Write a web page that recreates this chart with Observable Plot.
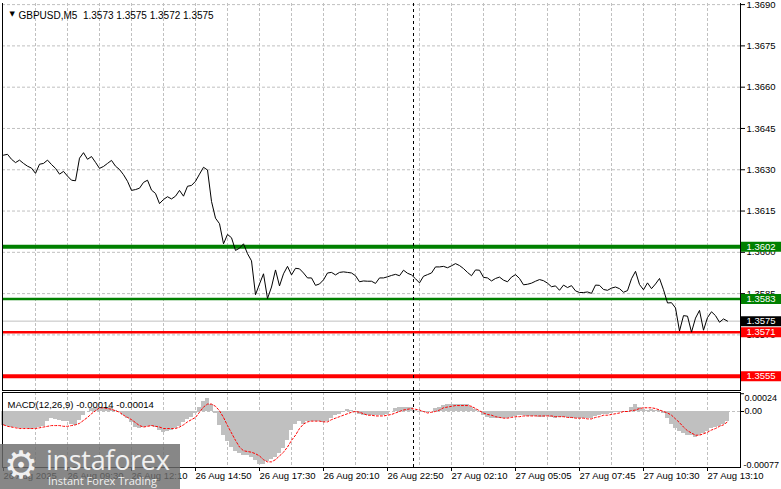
<!DOCTYPE html>
<html>
<head>
<meta charset="utf-8">
<script src="https://cdn.jsdelivr.net/npm/d3@7"></script>
<script src="https://cdn.jsdelivr.net/npm/@observablehq/plot@0.6"></script>
<style>
  body { margin: 0; background: #fff; }
  #wrap { position: relative; width: 781px; height: 489px; overflow: hidden; }
  #wrap svg { display: block; }
  #logo {
    position: absolute; left: 0; top: 444px; width: 180px; height: 45px;
    background: rgba(108, 108, 108, 0.82); color: #f0f0f0;
  }
  #logo .gear { position: absolute; left: 4px; top: -1px; font: bold 38px "DejaVu Sans"; }
  #logo .name { position: absolute; left: 46px; top: -3px; font: 27px "Open Sans"; letter-spacing: -0.3px; }
  #logo .sub { position: absolute; left: 48px; top: 29px; font: 11px "Open Sans"; }
</style>
</head>
<body>
<div id="wrap">
  <div id="main"></div>
  <div id="macd"></div>
  <div id="logo"><span class="gear">⚙</span><span class="name">instaforex</span><span class="sub">Instant Forex Trading</span></div>
</div>
<script>
// GBPUSD M5 closes, one value every 2 bars
const close = [
  1.36353, 1.36356, 1.36338, 1.36326, 1.36335, 1.36323, 1.36313, 1.36306, 1.36287, 1.36320,
  1.36323, 1.36335, 1.36319, 1.36305, 1.36284, 1.36294, 1.36277, 1.36262, 1.36260, 1.36342,
  1.36362, 1.36338, 1.36348, 1.36327, 1.36305, 1.36312, 1.36323, 1.36334, 1.36313, 1.36301,
  1.36282, 1.36258, 1.36225, 1.36228, 1.36233, 1.36254, 1.36262, 1.36226, 1.36214, 1.36177,
  1.36192, 1.36202, 1.36194, 1.36204, 1.36225, 1.36204, 1.36240, 1.36243, 1.36258, 1.36284,
  1.36309, 1.36299, 1.36185, 1.36124, 1.36104, 1.36031, 1.36065, 1.36053, 1.36007, 1.36015,
  1.36031, 1.35995, 1.35969, 1.35846, 1.35885, 1.35922, 1.35832, 1.35874, 1.35936, 1.35878,
  1.35922, 1.35949, 1.35918, 1.35942, 1.35940, 1.35925, 1.35907, 1.35907, 1.35880, 1.35885,
  1.35900, 1.35925, 1.35927, 1.35918, 1.35927, 1.35929, 1.35927, 1.35925, 1.35915, 1.35893,
  1.35896, 1.35895, 1.35895, 1.35887, 1.35907, 1.35907, 1.35911, 1.35916, 1.35920, 1.35915,
  1.35935, 1.35924, 1.35918, 1.35904, 1.35889, 1.35913, 1.35919, 1.35925, 1.35947, 1.35947,
  1.35949, 1.35944, 1.35951, 1.35959, 1.35952, 1.35941, 1.35927, 1.35915, 1.35936, 1.35935,
  1.35909, 1.35907, 1.35896, 1.35905, 1.35910, 1.35899, 1.35893, 1.35910, 1.35919, 1.35905,
  1.35882, 1.35884, 1.35888, 1.35895, 1.35901, 1.35897, 1.35888, 1.35875, 1.35878, 1.35862,
  1.35881, 1.35872, 1.35879, 1.35860, 1.35854, 1.35854, 1.35856, 1.35851, 1.35881, 1.35880,
  1.35865, 1.35862, 1.35870, 1.35874, 1.35868, 1.35855, 1.35861, 1.35904, 1.35931, 1.35883,
  1.35864, 1.35889, 1.35868, 1.35885, 1.35905, 1.35864, 1.35816, 1.35817, 1.35798, 1.35714,
  1.35770, 1.35768, 1.35710, 1.35761, 1.35789, 1.35717, 1.35763, 1.35784, 1.35770, 1.35746,
  1.35758, 1.35750
];

// MACD(12,26,9) main (histogram) and signal, same bars as close
const macdMain = [
  -0.00019, -0.00020, -0.00021, -0.00022, -0.00023, -0.00023, -0.00023, -0.00024, -0.00023, -0.00022,
  -0.00020, -0.00014, -0.00010, -0.00011, -0.00012, -0.00014, -0.00014, -0.00017, -0.00019, -0.00012,
  -0.00005, 0.00000, 0.00004, 0.00005, 0.00006, 0.00006, 0.00006, 0.00005, 0.00001, -0.00002,
  -0.00005, -0.00010, -0.00015, -0.00021, -0.00023, -0.00022, -0.00020, -0.00020, -0.00022, -0.00026,
  -0.00028, -0.00027, -0.00026, -0.00023, -0.00020, -0.00015, -0.00011, -0.00008, -0.00003, 0.00006,
  0.00013, 0.00018, 0.00010, -0.00003, -0.00019, -0.00032, -0.00041, -0.00048, -0.00054, -0.00057,
  -0.00059, -0.00060, -0.00062, -0.00066, -0.00072, -0.00071, -0.00068, -0.00065, -0.00062, -0.00057,
  -0.00050, -0.00039, -0.00026, -0.00017, -0.00014, -0.00017, -0.00014, -0.00014, -0.00014, -0.00014,
  -0.00015, -0.00014, -0.00009, -0.00006, -0.00004, -0.00002, 0.00003, 0.00001, -0.00001, -0.00004,
  -0.00005, -0.00005, -0.00005, -0.00005, -0.00005, -0.00005, -0.00004, 0.00000, 0.00004, 0.00005,
  0.00006, 0.00005, 0.00005, 0.00001, -0.00001, -0.00002, -0.00002, 0.00000, 0.00004, 0.00006,
  0.00008, 0.00009, 0.00010, 0.00010, 0.00010, 0.00010, 0.00009, 0.00006, 0.00003, -0.00002,
  -0.00005, -0.00008, -0.00010, -0.00010, -0.00010, -0.00009, -0.00009, -0.00008, -0.00007, -0.00006,
  -0.00006, -0.00007, -0.00007, -0.00007, -0.00008, -0.00008, -0.00007, -0.00008, -0.00009, -0.00008,
  -0.00008, -0.00008, -0.00009, -0.00009, -0.00009, -0.00010, -0.00010, -0.00009, -0.00007, -0.00005,
  -0.00004, -0.00004, -0.00003, -0.00002, -0.00002, -0.00001, 0.00000, 0.00006, 0.00010, 0.00006,
  0.00003, 0.00002, 0.00003, 0.00002, 0.00001, -0.00003, -0.00010, -0.00017, -0.00023, -0.00027,
  -0.00030, -0.00032, -0.00032, -0.00035, -0.00032, -0.00030, -0.00027, -0.00023, -0.00022, -0.00020,
  -0.00017, -0.00014
];
const macdSignal = [
  -0.00018, -0.00020, -0.00021, -0.00022, -0.00023, -0.00023, -0.00023, -0.00023, -0.00023, -0.00022,
  -0.00021, -0.00020, -0.00019, -0.00019, -0.00019, -0.00020, -0.00020, -0.00019, -0.00018, -0.00016,
  -0.00012, -0.00008, -0.00003, 0.00001, 0.00005, 0.00005, 0.00004, 0.00003, 0.00001, -0.00001,
  -0.00005, -0.00008, -0.00011, -0.00015, -0.00019, -0.00021, -0.00020, -0.00019, -0.00020, -0.00021,
  -0.00023, -0.00023, -0.00023, -0.00023, -0.00021, -0.00018, -0.00014, -0.00011, -0.00008, -0.00001,
  0.00006, 0.00010, 0.00010, 0.00007, 0.00001, -0.00008, -0.00019, -0.00029, -0.00039, -0.00048,
  -0.00053, -0.00054, -0.00055, -0.00057, -0.00060, -0.00065, -0.00068, -0.00068, -0.00065, -0.00060,
  -0.00055, -0.00048, -0.00039, -0.00032, -0.00023, -0.00017, -0.00014, -0.00013, -0.00013, -0.00013,
  -0.00014, -0.00014, -0.00011, -0.00009, -0.00007, -0.00005, -0.00003, -0.00001, 0.00000, -0.00001,
  -0.00003, -0.00005, -0.00005, -0.00006, -0.00006, -0.00006, -0.00005, -0.00004, -0.00002, 0.00000,
  0.00002, 0.00003, 0.00004, 0.00003, 0.00002, 0.00000, -0.00002, -0.00001, 0.00000, 0.00002,
  0.00005, 0.00006, 0.00007, 0.00008, 0.00008, 0.00008, 0.00008, 0.00007, 0.00004, 0.00001,
  -0.00002, -0.00004, -0.00005, -0.00007, -0.00008, -0.00009, -0.00009, -0.00008, -0.00007, -0.00007,
  -0.00006, -0.00006, -0.00006, -0.00006, -0.00006, -0.00006, -0.00006, -0.00006, -0.00007, -0.00007,
  -0.00007, -0.00008, -0.00008, -0.00009, -0.00009, -0.00009, -0.00010, -0.00010, -0.00008, -0.00007,
  -0.00005, -0.00005, -0.00004, -0.00003, -0.00002, 0.00000, 0.00000, 0.00001, 0.00002, 0.00004,
  0.00005, 0.00005, 0.00005, 0.00004, 0.00002, 0.00000, -0.00002, -0.00005, -0.00010, -0.00015,
  -0.00021, -0.00026, -0.00029, -0.00032, -0.00032, -0.00030, -0.00028, -0.00025, -0.00023, -0.00020,
  -0.00018, -0.00014
];

const priceTicks = [1.3570, 1.3585, 1.3600, 1.3615, 1.3630, 1.3645, 1.3660, 1.3675, 1.3690];
const macdTicks = [0.00024, 0.00, -0.00077];
const gridBars = [8, 16, 24, 32, 40, 48, 56, 64, 72, 80, 88, 96, 104, 112, 120, 128, 136, 144, 152, 160, 168, 176];
const timeTicks = [0, 16, 32, 48, 64, 80, 96, 112, 128, 144, 160, 176];
const timeLabels = ["26 Aug 2025", "26 Aug 09:30", "26 Aug 12:10", "26 Aug 14:50", "26 Aug 17:30", "26 Aug 20:10",
  "26 Aug 22:50", "27 Aug 02:10", "27 Aug 05:05", "27 Aug 07:45", "27 Aug 10:30", "27 Aug 13:10"];
const resistance = [1.3602, 1.3583];
const support = [1.3571, 1.3555];
const lastPrice = 1.3575;
const separatorBar = 102.5;
const title = "GBPUSD,M5\u00a0\u00a01.3573 1.3575 1.3572 1.3575";
const macdTitle = "MACD(12,26,9) -0.00014 -0.00014";

const font = { fontFamily: "Liberation Sans", fontSize: "9.5px", background: "#fff", overflow: "visible" };
const xDomain = [-0.25, 184.25];
const grey = "#c0c0c0";
const green = "#008000";
const red = "#ff0000";
const fmt = d => d.toFixed(4);
const idx = (d, i) => i;

// label box on the price scale: a thick rule placed past the right edge
const tag = (v, color) => [
  Plot.ruleY([v], { x1: 184.5, x2: 195, stroke: color, strokeWidth: 10 }),
  Plot.text([v], { y: d => d, text: fmt, frameAnchor: "right", dx: 6, textAnchor: "start", fill: "#fff" })
];

const main = Plot.plot({
  width: 781,
  height: 391,
  marginLeft: 2,
  marginRight: 41,
  marginTop: 3,
  marginBottom: 1,
  style: font,
  x: { domain: xDomain, axis: null },
  y: { domain: [1.35498, 1.36904], axis: null },
  marks: [
    Plot.gridY(priceTicks, { stroke: grey, strokeOpacity: 1, strokeDasharray: "3,2" }),
    Plot.gridX(gridBars, { stroke: grey, strokeOpacity: 1, strokeDasharray: "3,2" }),
    Plot.ruleY([lastPrice], { stroke: grey }),
    Plot.ruleY([resistance[0]], { stroke: green, strokeWidth: 4 }),
    Plot.ruleY([resistance[1]], { stroke: green, strokeWidth: 2.5 }),
    Plot.ruleY([support[0]], { stroke: red, strokeWidth: 2.5 }),
    Plot.ruleY([support[1]], { stroke: red, strokeWidth: 4 }),
    Plot.ruleX([separatorBar], { stroke: "#000", strokeDasharray: "3,3" }),
    Plot.line(close, { x: idx, y: d => d, stroke: "#000", strokeWidth: 1 }),
    Plot.frame({ anchor: "left", stroke: "#000" }),
    Plot.frame({ anchor: "right", stroke: "#000" }),
    Plot.frame({ anchor: "bottom", stroke: "#000" }),
    Plot.axisY(priceTicks, { anchor: "right", tickSize: 4, tickPadding: 2, tickFormat: fmt, label: null }),
    ...tag(resistance[0], green),
    ...tag(resistance[1], green),
    ...tag(lastPrice, "#000"),
    ...tag(support[0], red),
    ...tag(support[1], red),
    Plot.text(["\u25bc"], { text: d => d, frameAnchor: "top-left", dx: 7, dy: 8, fontFamily: "DejaVu Sans", fontSize: 7 }),
    Plot.text([title], { text: d => d, frameAnchor: "top-left", dx: 16, dy: 8, textAnchor: "start", fontSize: 10 })
  ]
});

const macd = Plot.plot({
  width: 781,
  height: 98,
  marginLeft: 2,
  marginRight: 41,
  marginTop: 1,
  marginBottom: 22,
  style: font,
  x: { domain: xDomain, axis: null },
  y: { domain: [-0.000756, 0.0002565], axis: null },
  marks: [
    Plot.gridX(gridBars, { stroke: grey, strokeOpacity: 1, strokeDasharray: "3,2" }),
    Plot.ruleY([0], { stroke: grey, strokeDasharray: "3,2" }),
    Plot.rect(macdMain, {
      x1: (d, i) => i - 0.5, x2: (d, i) => i + 0.5, y1: 0, y2: d => d,
      fill: grey, shapeRendering: "crispEdges"
    }),
    Plot.ruleX([separatorBar], { stroke: "#000", strokeDasharray: "3,3" }),
    Plot.line(macdSignal, { x: idx, y: d => d, stroke: red, strokeWidth: 1, strokeDasharray: "2,2" }),
    Plot.frame({ stroke: "#000" }),
    Plot.axisX(timeTicks, {
      anchor: "bottom", tickSize: 4, tickPadding: 1, textAnchor: "start", label: null,
      tickFormat: d => timeLabels[timeTicks.indexOf(d)]
    }),
    Plot.ruleY(macdTicks.slice(0, 2), { x1: 184.25, x2: 185.25, stroke: "#000" }),
    Plot.text([macdTicks[0]], { y: d => d, text: d => d.toFixed(5), frameAnchor: "right", dx: 4, textAnchor: "start", lineAnchor: "top", dy: 1, fontSize: 9 }),
    Plot.text([macdTicks[1]], { y: d => d, text: d => d.toFixed(2), frameAnchor: "right", dx: 4, textAnchor: "start", fontSize: 9 }),
    Plot.text([macdTicks[2]], { y: d => d, text: d => d.toFixed(5), frameAnchor: "right", dx: 3, textAnchor: "start", lineAnchor: "bottom", dy: -1, fontSize: 9 }),
    Plot.text([macdTitle], { text: d => d, frameAnchor: "top-left", dx: 5, dy: 9, textAnchor: "start" })
  ]
});

document.getElementById("main").append(main);
document.getElementById("macd").append(macd);
</script>
</body>
</html>
